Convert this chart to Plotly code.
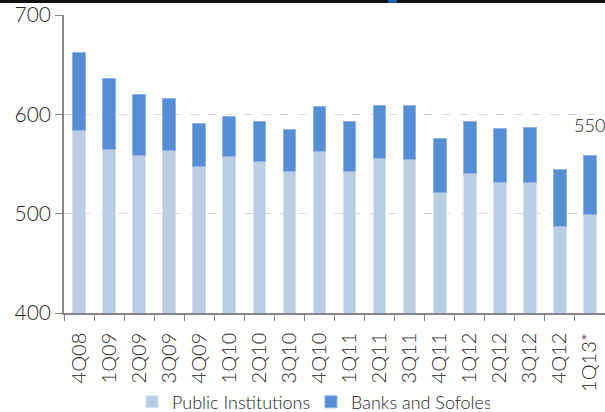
import plotly.graph_objects as go

categories = ["4Q08", "1Q09", "2Q09", "3Q09", "4Q09", "1Q10", "2Q10", "3Q10", "4Q10",
              "1Q11", "2Q11", "3Q11", "4Q11", "1Q12", "2Q12", "3Q12", "4Q12", "1Q13*"]
public_institutions = [584, 565, 559, 564, 547, 558, 553, 542, 563,
                       542, 556, 555, 521, 540, 531, 531, 487, 499]
totals = [662, 636, 620, 616, 591, 598, 593, 585, 608,
          593, 609, 609, 576, 593, 586, 587, 544, 559]
banks_sofoles = [t - p for t, p in zip(totals, public_institutions)]
last_label = "550"

FONT = "Lato"
TXT = "#262626"
W = 300

fig = go.Figure()
fig.add_trace(go.Bar(
    x=categories, y=public_institutions, name="Public Institutions",
    marker=dict(color="#B9CDE5", line=dict(color="#D6E2F0", width=1)),
))
fig.add_trace(go.Bar(
    x=categories, y=banks_sofoles, name="Banks and Sofoles",
    marker=dict(color="#558ED5", line=dict(color="#8FB4E3", width=1)),
))

fig.update_layout(
    barmode="stack",
    bargap=0.58,
    width=605, height=412,
    margin=dict(l=64, r=0, t=15, b=99),
    plot_bgcolor="white", paper_bgcolor="white",
    font=dict(family=FONT, color=TXT, weight=W),
    legend=dict(orientation="h", x=0.1257, xanchor="left",
                yref="container", y=0.024, yanchor="middle",
                font=dict(size=18, color=TXT, weight=W), itemwidth=30,
                entrywidth=134, entrywidthmode="pixels",
                traceorder="normal", tracegroupgap=0, bgcolor="rgba(0,0,0,0)"),
    xaxis=dict(
        type="category", tickangle=-90, tickfont=dict(size=20, color=TXT, weight=W),
        showline=True, linecolor="#868686", linewidth=1.5,
        ticks="outside", tickson="boundaries", ticklen=6, tickcolor="#868686",
        ticklabelstandoff=10, automargin=False,
        showgrid=False, range=[-0.5, 17.5],
    ),
    yaxis=dict(
        range=[400, 700], dtick=100, tickfont=dict(size=21, color=TXT, weight=W),
        showline=True, linecolor="#868686", linewidth=1.5,
        ticks="outside", ticklen=7, tickcolor="#868686", automargin=False,
        showgrid=True, gridcolor="#D9D9D9", griddash="dash", gridwidth=1,
        zeroline=False,
    ),
    annotations=[dict(
        x=categories[-1], y=totals[-1], xref="x", yref="y",
        text=last_label, showarrow=False, yshift=30, xshift=0,
        font=dict(size=18, color="#222222", weight=W),
    )],
    shapes=[
        dict(type="line", xref="paper", yref="paper", x0=-0.12, x1=1.0,
             y0=1.0453, y1=1.0453, layer="above",
             line=dict(color="#111111", width=3)),
        dict(type="rect", xref="paper", yref="paper", x0=0.599, x1=0.6155,
             y0=1.040, y1=1.055, layer="above", line=dict(width=0),
             fillcolor="#1F5FAF"),
    ],
)

fig.write_html("out.html", config={"displayModeBar": False},
               post_script="document.body.style.margin='0';")
